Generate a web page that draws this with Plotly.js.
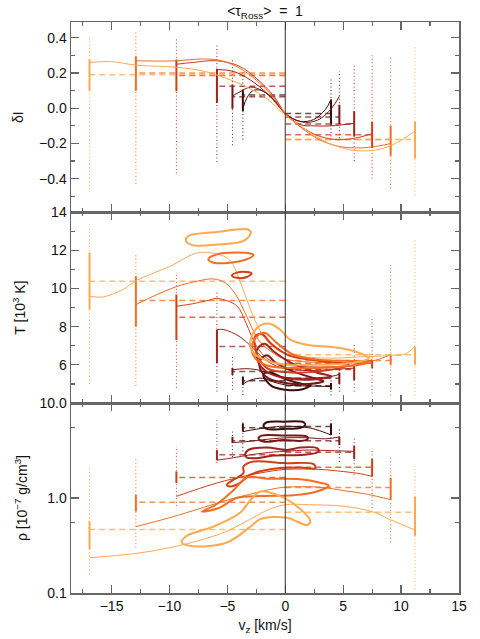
<!DOCTYPE html>
<html>
<head>
<meta charset="utf-8">
<script src="https://cdn.plot.ly/plotly-3.0.1.min.js"></script>
<style>
  html, body { margin: 0; padding: 0; background: #fff; }
  #chart { width: 480px; height: 639px; }
</style>
</head>
<body>
<div id="chart"></div>
<script>
// couleurs des classes, de la plus sombre (flux faibles) a la plus claire (flux forts)
const binColors = ['#3d0b0b', '#761616', '#a4221c', '#d23e16', '#f36d22', '#ffa94f'];

// vitesse verticale moyenne de chaque classe [km/s]
const vzUp = [-3.66, -4.56, -5.9, -9.4, -12.9, -16.9];
const vzDown = [3.95, 4.67, 5.95, 7.5, 9.1, 11.2];

// δI : moyenne, ecart-type (bas/haut), min/max
const dIUpMean = [0.075, 0.065, 0.125, 0.186, 0.2, 0.19];
const dIUpLo = [-0.017, -0.003, 0.03, 0.097, 0.10, 0.10];
const dIUpHi = [0.106, 0.135, 0.225, 0.277, 0.295, 0.28];
const dIUpMin = [-0.178, -0.21, -0.305, -0.37, -0.43, -0.46];
const dIUpMax = [0.21, 0.28, 0.36, 0.405, 0.44, 0.41];
const dIDownMean = [-0.03, -0.05, -0.09, -0.15, -0.178, -0.178];
const dIDownLo = [-0.093, -0.09, -0.16, -0.225, -0.27, -0.286];
const dIDownHi = [0.05, 0.02, -0.017, -0.077, -0.1, -0.077];
const dIDownMin = [-0.18, -0.17, -0.3, -0.4, -0.456, -0.494];
const dIDownMax = [0.163, 0.21, 0.245, 0.3, 0.29, 0.352];

// T [10^3 K]
const tUpMean = [5.17, 5.65, 6.96, 8.49, 9.37, 10.38];
const tUpLo = [4.95, 5.47, 6.09, 7.3, 8.0, 8.9];
const tUpHi = [5.38, 5.84, 7.84, 9.68, 10.65, 11.88];
const tUpMin = [4.42, 4.7, 4.6, 4.8, 4.9, 5.0];
const tUpMax = [5.47, 6.5, 9.8, 10.86, 11.8, 13.14];
const tDownMean = [4.9, 5.3, 5.75, 6.09, 6.23, 6.53];
const tDownLo = [4.7, 5.0, 5.2, 5.83, 6.0, 6.0];
const tDownHi = [5.05, 5.6, 5.96, 6.26, 6.53, 6.96];
const tDownMin = [4.4, 4.6, 4.6, 4.5, 4.4, 4.4];
const tDownMax = [5.3, 5.9, 7.17, 8.54, 11.3, 12.6];

// rho [10^-7 g/cm^3]
const rhoUpMean = [5.5, 4.0, 2.85, 1.64, 0.9, 0.465];
const rhoUpLo = [5.0, 3.8, 2.5, 1.44, 0.72, 0.29];
const rhoUpHi = [6.1, 4.4, 3.2, 1.9, 1.08, 0.57];
const rhoUpMin = [3.1, 2.7, 2.33, 0.82, 0.3, 0.157];
const rhoUpMax = [6.7, 5.0, 6.6, 3.5, 2.7, 2.06];
const rhoDownMean = [5.65, 4.0, 3.04, 2.11, 1.29, 0.71];
const rhoDownLo = [4.6, 3.6, 2.58, 1.69, 0.96, 0.4];
const rhoDownHi = [6.1, 4.4, 3.56, 2.58, 1.64, 1.04];
const rhoDownMin = [3.9, 2.4, 1.76, 0.785, 0.34, 0.11];
const rhoDownMax = [6.6, 5.3, 4.4, 3.34, 2.7, 2.1];

// courbes fines (une par classe)
const dICurveX = [
    [-3.66, -3.3, -2.8, -2, -1, 0, 1.3, 2.45, 3.46, 3.95],
    [-4.56, -4, -3, -2, -1, 0, 1, 2, 3, 4, 4.67],
    [-5.9, -4.5, -3, -1.5, 0, 1.3, 2.5, 4, 5.95],
    [-9.4, -8, -6, -4, -2.5, -1, 0, 1, 2, 3, 4.5, 6, 7.5],
    [-12.9, -11, -9.4, -7, -5.5, -4, -2.5, -1, 0, 1, 2, 3, 4.5, 6, 7.5, 9.1],
    [-16.9, -15, -12.9, -9.4, -7, -4.5, -3, -1.5, 0, 1.3, 2.5, 4.2, 6, 8, 9.5, 11.2]
];
const dICurveY = [
    [0.0, 0.06, 0.1, 0.1, 0.05, -0.03, -0.074, -0.064, -0.007, 0.05],
    [0.07, 0.09, 0.12, 0.1, 0.05, -0.03, -0.07, -0.08, -0.06, 0.0, 0.068],
    [0.22, 0.21, 0.16, 0.08, -0.03, -0.093, -0.1, -0.1, -0.085],
    [0.25, 0.26, 0.27, 0.24, 0.17, 0.07, -0.03, -0.09, -0.13, -0.16, -0.178, -0.17, -0.144],
    [0.27, 0.268, 0.27, 0.28, 0.27, 0.23, 0.16, 0.06, -0.03, -0.09, -0.14, -0.18, -0.215, -0.225, -0.22, -0.2],
    [0.26, 0.265, 0.245, 0.233, 0.21, 0.155, 0.11, 0.05, -0.04, -0.1, -0.155, -0.21, -0.24, -0.235, -0.2, -0.13]
];

const tCurveX = [
    [-3.66, -3, -2, -1, 0, 1.5, 3, 3.95],
    [-4.56, -3.5, -2.5, -1, 0, 2, 4, 4.67],
    [-5.9, -5.3, -4, -3, -2, -1, 0, 2, 4, 5.95],
    [-9.4, -8, -6.5, -5.9, -4.2, -3.4, -2.5, -1.5, 0, 2, 4, 6, 7.5],
    [-12.9, -11, -9.4, -7.5, -6.2, -5.2, -4.3, -3.3, -2.3, -1, 0, 2, 4, 6, 7.5, 9.1],
    [-16.9, -15.8, -14, -12.9, -10, -7.5, -5.9, -4.8, -3.8, -3, -2, -1, 0, 2, 4, 6, 8, 9.1, 10.3, 11.2]
];
const tCurveY = [
    [5.0, 5.2, 5.3, 5.1, 4.95, 4.9, 4.88, 4.86],
    [5.74, 5.8, 5.75, 5.5, 5.35, 5.3, 5.4, 5.5],
    [7.84, 7.85, 7.5, 7.0, 6.4, 6.0, 5.8, 5.7, 5.75, 5.83],
    [9.07, 9.2, 9.4, 9.48, 9.1, 8.2, 7.0, 6.3, 6.0, 5.9, 5.9, 6.0, 6.26],
    [9.16, 9.7, 10.1, 10.4, 10.5, 10.3, 9.7, 8.5, 7.3, 6.6, 6.3, 6.15, 6.1, 6.15, 6.2, 6.53],
    [9.6, 9.55, 9.95, 10.4, 11.15, 11.88, 11.8, 11.5, 10.2, 8.9, 7.6, 6.9, 6.6, 6.4, 6.35, 6.4, 6.45, 6.5, 6.55, 6.96]
];

const rhoCurveX = [
    [-3.66, -2.5, -1, 0, 2, 3.2, 3.95],
    [-4.56, -3.5, -2, 0, 2, 3.5, 4.67],
    [-5.9, -4.5, -3, -1, 0, 2, 4, 5.95],
    [-9.4, -7.5, -5.9, -4, -2, 0, 3, 5, 6.5, 7.5],
    [-12.9, -10, -7, -5, -3, -1, 0, 3, 5, 7, 9.1],
    [-16.9, -13, -10, -7, -5, -3, -1.5, 0, 2, 5, 7.5, 9.1, 11.2]
];
const rhoCurveY = [
    [5.0, 5.3, 5.6, 5.7, 5.5, 5.0, 4.6],
    [3.85, 3.9, 4.1, 4.3, 4.3, 4.2, 4.4],
    [2.5, 2.65, 2.85, 3.05, 3.1, 3.2, 3.15, 3.1],
    [1.04, 1.25, 1.44, 1.65, 1.85, 2.0, 2.0, 1.9, 1.8, 1.69],
    [0.5, 0.62, 0.8, 0.95, 1.1, 1.25, 1.3, 1.3, 1.2, 1.1, 0.96],
    [0.235, 0.26, 0.3, 0.37, 0.45, 0.6, 0.75, 0.85, 0.85, 0.82, 0.72, 0.59, 0.46]
];

// boucles epaisses, panneau T
const tLoopColor = [0, 1, 2, 3, 4, 5, 3, 4, 5];
const tLoopX = [
    [-1.9, -1.3, 0, 1.5, 2.2, 1.5, 0, -1.2, -1.9],
    [-2.2, -1.6, -0.8, 0.5, 2.5, 3.3, 2, 0, -1.5, -2.1, -2.2],
    [-2.45, -1.8, -1.0, 0.5, 2.7, 4.0, 2.7, 0, -1.5, -2.3, -2.45],
    [-2.6, -2.0, -1.2, 0.3, 3, 5.5, 4, 0.5, -1.5, -2.4, -2.6],
    [-2.89, -2.3, -1.73, -0.72, 0.72, 3.03, 6, 7.36, 5.05, 0.72, -1.5, -2.6, -2.89],
    [-3.03, -2.45, -1.44, -0.43, 0.43, 1.88, 4.76, 6.5, 7.2, 5.63, 2.16, 0.14, -1.5, -2.7, -3.03],
    [-4.6, -4.18, -3.32, -2.9, -3.32, -4.18, -4.6],
    [-6.64, -5.9, -4.18, -3.03, -2.74, -3.32, -4.76, -6.2, -6.64],
    [-8.57, -8.37, -5.9, -3.3, -2.97, -3.6, -5.9, -7.9, -8.57]
];
const tLoopY = [
    [5.5, 5.6, 5.25, 5.0, 4.95, 4.72, 4.7, 4.9, 5.5],
    [6.2, 6.5, 6.1, 5.7, 5.3, 5.15, 5.0, 5.05, 5.3, 5.7, 6.2],
    [6.8, 7.1, 6.7, 6.1, 5.6, 5.4, 5.25, 5.3, 5.6, 6.1, 6.8],
    [7.5, 7.6, 7.1, 6.5, 6.2, 6.0, 5.75, 5.6, 5.8, 6.5, 7.5],
    [6.96, 7.58, 7.67, 7.14, 6.53, 6.26, 6.2, 6.15, 5.91, 5.83, 5.95, 6.35, 6.96],
    [7.14, 7.93, 8.16, 7.84, 7.32, 7.05, 6.88, 6.6, 6.35, 6.09, 6.0, 6.0, 6.2, 6.6, 7.14],
    [10.68, 10.83, 10.86, 10.79, 10.6, 10.56, 10.68],
    [11.53, 11.79, 11.88, 11.83, 11.75, 11.53, 11.35, 11.35, 11.53],
    [12.49, 12.75, 12.96, 13.1, 12.93, 12.49, 12.3, 12.26, 12.49]
];

// boucles epaisses, panneau rho
const rhoLoopX = [
    [-1.88, -1.59, -0.14, 1.59, 1.73, 1.3, -0.14, -1.59, -1.88],
    [-2.31, -2.02, -0.14, 1.88, 1.93, 1.3, -0.14, -1.88, -2.31],
    [-3.46, -3.17, -1.59, 0.14, 1.3, 2.74, 2.88, 1.59, -1.01, -2.45, -3.32, -3.46],
    [-5.05, -4.47, -3.61, -3.61, -2.74, -0.14, 2.45, 2.6, 1.3, -1.01, -3.03, -3.9, -4.76, -5.05],
    [-7.2, -6.0, -4.5, -3.3, -1.6, 1.3, 3.0, 3.75, 2.5, 0.7, -2, -4.2, -5.8, -7.2],
    [-8.95, -8.5, -6.2, -3.9, -3.0, -2.16, -0.72, 1.0, 2.16, 1.88, 0.14, -2.16, -3, -5.05, -7.94, -8.95]
];
const rhoLoopY = [
    [5.78, 6.27, 6.37, 6.27, 5.88, 5.5, 5.34, 5.34, 5.78],
    [4.26, 4.54, 4.54, 4.43, 4.16, 3.99, 4.09, 3.93, 4.26],
    [2.85, 3.21, 3.4, 3.21, 3.4, 3.35, 3.08, 2.85, 2.8, 2.63, 2.67, 2.85],
    [1.38, 1.56, 1.83, 2.15, 2.42, 2.33, 2.27, 2.06, 2.09, 2.03, 1.76, 1.44, 1.32, 1.38],
    [0.72, 0.85, 1.2, 1.65, 1.6, 1.58, 1.45, 1.35, 1.15, 1.07, 1.05, 1.0, 0.78, 0.72],
    [0.34, 0.4, 0.5, 0.7, 0.95, 1.17, 1.08, 0.82, 0.57, 0.52, 0.62, 0.6, 0.5, 0.34, 0.31, 0.34]
];

let traces = [];

function ligne(x, y, xa, ya, color, width, dash, shape, opac) {
    traces.push({
        x: x, y: y, xaxis: xa, yaxis: ya, mode: 'lines',
        line: {color: color, width: width, dash: dash || 'solid', shape: shape || 'linear'},
        opacity: opac || 1,
        hoverinfo: 'skip', showlegend: false
    });
}

// barres : pointilles (min-max), trait plein (ecart-type), tirets (moyenne depuis 0)
function stats(xa, ya, vz, mean, lo, hi, mn, mx) {
    for (let i = 0; i < vz.length; i++) {
        let c = binColors[i];
        ligne([vz[i], vz[i]], [mn[i], mx[i]], xa, ya, c, 1, '1px,2.5px');
        ligne([0, vz[i]], [mean[i], mean[i]], xa, ya, c, 1.5, '6px,4px', 'linear', 0.75);
        ligne([vz[i], vz[i]], [lo[i], hi[i]], xa, ya, c, 2);
    }
}

stats('x3', 'y', vzUp, dIUpMean, dIUpLo, dIUpHi, dIUpMin, dIUpMax);
stats('x3', 'y', vzDown, dIDownMean, dIDownLo, dIDownHi, dIDownMin, dIDownMax);
stats('x2', 'y2', vzUp, tUpMean, tUpLo, tUpHi, tUpMin, tUpMax);
stats('x2', 'y2', vzDown, tDownMean, tDownLo, tDownHi, tDownMin, tDownMax);
stats('x', 'y3', vzUp, rhoUpMean, rhoUpLo, rhoUpHi, rhoUpMin, rhoUpMax);
stats('x', 'y3', vzDown, rhoDownMean, rhoDownLo, rhoDownHi, rhoDownMin, rhoDownMax);

for (let i = 0; i < 6; i++) {
    ligne(dICurveX[i], dICurveY[i], 'x3', 'y', binColors[i], 1, 'solid', 'spline');
    ligne(tCurveX[i], tCurveY[i], 'x2', 'y2', binColors[i], 1, 'solid', 'spline');
    ligne(rhoCurveX[i], rhoCurveY[i], 'x', 'y3', binColors[i], 1, 'solid', 'spline');
    ligne(rhoLoopX[i], rhoLoopY[i], 'x', 'y3', binColors[i], 2, 'solid', 'spline');
}
for (let k = 0; k < tLoopX.length; k++) {
    ligne(tLoopX[k], tLoopY[k], 'x2', 'y2', binColors[tLoopColor[k]], 2, 'solid', 'spline');
}

const police = {family: 'Liberation Sans, Arial, sans-serif', size: 14, color: '#111'};
const gris = '#666';
const axeX = {
    range: [-18.5, 15], dtick: 5, tick0: 0, ticks: 'inside', ticklen: 8, tickcolor: gris, tickwidth: 1.2,
    minor: {dtick: 2.5, ticklen: 4, tickcolor: gris, ticks: 'inside'},
    showline: true, linecolor: gris, linewidth: 1.5, mirror: 'ticks',
    showgrid: false, zeroline: false, tickfont: police
};
const axeY = {
    ticks: 'inside', ticklen: 8, tickcolor: gris, tickwidth: 1.2,
    showline: true, linecolor: gris, linewidth: 1.5, mirror: 'ticks',
    showgrid: false, zeroline: false, tickfont: police
};

let layout = {
    width: 480, height: 639,
    margin: {l: 71, r: 21, t: 22, b: 46},
    paper_bgcolor: '#fff', plot_bgcolor: '#fff',
    showlegend: false, hovermode: false,
    font: police,
    title: {text: '&lt;τ<sub>Ross</sub>&gt;\u00a0 =\u00a0 1', x: 0.5, xref: 'paper', y: 0.982, yref: 'container', yanchor: 'middle', font: {family: police.family, size: 14, color: '#111'}},
    xaxis: Object.assign({}, axeX, {anchor: 'y3', title: {text: 'v<sub>z</sub> [km/s]', font: police, standoff: 7}}),
    xaxis2: Object.assign({}, axeX, {anchor: 'y2', matches: 'x', showticklabels: false}),
    xaxis3: Object.assign({}, axeX, {anchor: 'y', matches: 'x', showticklabels: false}),
    yaxis: Object.assign({}, axeY, {
        domain: [0.667, 1], anchor: 'x3', range: [-0.59, 0.49],
        tickvals: [-0.4, -0.2, 0, 0.2, 0.4], ticktext: ['\u22120.4', '\u22120.2', '0.0', '0.2', '0.4'],
        minor: {tickvals: [-0.5, -0.3, -0.1, 0.1, 0.3], ticklen: 4, tickcolor: gris, ticks: 'inside'},
        title: {text: 'δI', font: police, standoff: 12}
    }),
    yaxis2: Object.assign({}, axeY, {
        domain: [0.3327, 0.667], anchor: 'x2', range: [4, 14],
        tickvals: [6, 8, 10, 12, 14],
        minor: {tickvals: [5, 7, 9, 11, 13], ticklen: 4, tickcolor: gris, ticks: 'inside'},
        title: {text: 'T [10<sup>3</sup> K]', font: police, standoff: 22}
    }),
    yaxis3: Object.assign({}, axeY, {
        domain: [0, 0.3327], anchor: 'x', type: 'log', range: [-1, 1],
        tickvals: [0.1, 1, 10], ticktext: ['0.1', '1.0', '10.0'],
        minor: {tickvals: [0.55, 5.5], ticklen: 4, tickcolor: gris, ticks: 'inside'},
        title: {text: 'ρ [10<sup>\u22127</sup> g/cm<sup>3</sup>]', font: police, standoff: 8}
    }),
    shapes: [
        {type: 'line', xref: 'x', yref: 'y domain', x0: 0, x1: 0, y0: 0, y1: 1, line: {color: '#333', width: 1}},
        {type: 'line', xref: 'x2', yref: 'y2 domain', x0: 0, x1: 0, y0: 0, y1: 1, line: {color: '#333', width: 1}},
        {type: 'line', xref: 'x3', yref: 'y3 domain', x0: 0, x1: 0, y0: 0, y1: 1, line: {color: '#333', width: 1}}
    ]
};

Plotly.newPlot('chart', traces, layout, {staticPlot: true, displayModeBar: false});
</script>
</body>
</html>
